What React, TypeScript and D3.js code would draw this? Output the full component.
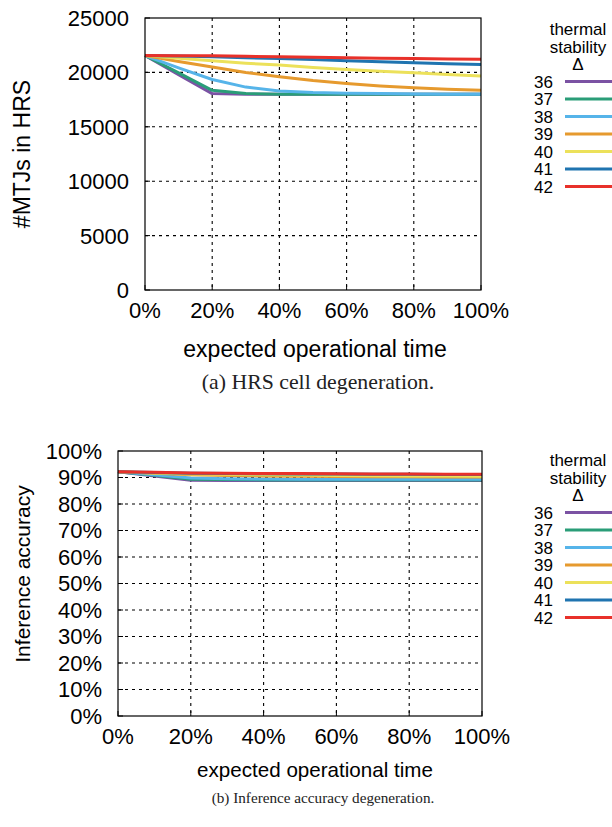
import React, { useRef, useEffect } from 'react';
import * as d3 from 'd3';

// x positions: expected operational time in %
const timePoints = [0, 10, 20, 30, 40, 50, 60, 70, 80, 90, 100];
const deltas = ['36', '37', '38', '39', '40', '41', '42'];
const colors = ['#7b52a3', '#2a9d78', '#56b4e9', '#e69a2e', '#ece15a', '#1f74b0', '#e8312a'];

// (a) number of MTJs in HRS
const hrs36 = [21550, 19800, 18050, 18000, 18000, 18000, 18000, 18000, 18000, 18000, 18000];
const hrs37 = [21550, 19950, 18350, 18050, 18000, 18000, 18000, 18000, 18000, 18000, 18000];
const hrs38 = [21550, 20420, 19350, 18650, 18300, 18150, 18080, 18050, 18020, 18000, 18000];
const hrs39 = [21550, 21000, 20500, 20000, 19600, 19250, 18980, 18750, 18580, 18450, 18350];
const hrs40 = [21550, 21300, 21070, 20850, 20670, 20460, 20270, 20110, 19970, 19810, 19660];
const hrs41 = [21550, 21500, 21430, 21350, 21280, 21180, 21070, 20970, 20880, 20800, 20730];
const hrs42 = [21550, 21540, 21520, 21480, 21440, 21390, 21350, 21310, 21270, 21240, 21220];

// (b) inference accuracy in %
const acc36 = [92.2, 90.6, 89.0, 88.9, 88.9, 88.9, 88.9, 88.9, 88.9, 88.9, 88.9];
const acc37 = [92.2, 90.8, 89.3, 89.2, 89.1, 89.1, 89.1, 89.1, 89.1, 89.1, 89.1];
const acc38 = [92.2, 91.0, 89.8, 89.5, 89.4, 89.3, 89.3, 89.3, 89.3, 89.3, 89.3];
const acc39 = [92.2, 91.6, 91.0, 90.8, 90.6, 90.5, 90.4, 90.3, 90.3, 90.2, 90.2];
const acc40 = [92.2, 91.7, 91.3, 91.2, 91.0, 90.9, 90.8, 90.7, 90.6, 90.6, 90.5];
const acc41 = [92.2, 91.9, 91.6, 91.5, 91.4, 91.3, 91.3, 91.2, 91.2, 91.1, 91.1];
const acc42 = [92.2, 92.0, 91.7, 91.6, 91.5, 91.5, 91.4, 91.3, 91.3, 91.2, 91.2];

const hrsSeries = [hrs36, hrs37, hrs38, hrs39, hrs40, hrs41, hrs42];
const accSeries = [acc36, acc37, acc38, acc39, acc40, acc41, acc42];

const xTicks = [0, 20, 40, 60, 80, 100];
const hrsTicks = [0, 5000, 10000, 15000, 20000, 25000];
const accTicks = [0, 10, 20, 30, 40, 50, 60, 70, 80, 90, 100];

const SANS = 'Liberation Sans, Arial, Helvetica, sans-serif';
const SERIF = 'Liberation Serif, Times New Roman, serif';

type PanelOpts = {
  left: number; right: number; top: number; bottom: number;
  yMax: number; yTicks: number[]; yFmt: (v: number) => string;
  yTitle: string; yTitleSize: number; yTitleY: number;
  xTitleSize: number; xTitleDy: number; tickSize: number;
  caption: string; captionSize: number; captionDy: number; captionX: number;
  series: number[][]; legendTop: number;
};

function drawPanel(svg: d3.Selection<SVGSVGElement, unknown, null, undefined>, o: PanelOpts) {
  const x = d3.scaleLinear().domain([0, 100]).range([o.left, o.right]);
  const y = d3.scaleLinear().domain([0, o.yMax]).range([o.bottom, o.top]);
  const g = svg.append('g');

  // dotted grid
  const grid = g.append('g').attr('stroke', '#000').attr('stroke-width', 1.1).attr('stroke-dasharray', '3,4');
  xTicks.filter(t => t > 0 && t < 100).forEach(t => {
    grid.append('line').attr('x1', x(t)).attr('x2', x(t)).attr('y1', o.top).attr('y2', o.bottom);
  });
  o.yTicks.filter(t => t > 0 && t < o.yMax).forEach(t => {
    grid.append('line').attr('x1', o.left).attr('x2', o.right).attr('y1', y(t)).attr('y2', y(t));
  });

  // tick marks (inside)
  const ticks = g.append('g').attr('stroke', '#000').attr('stroke-width', 1);
  xTicks.forEach(t => {
    ticks.append('line').attr('x1', x(t)).attr('x2', x(t)).attr('y1', o.bottom).attr('y2', o.bottom - 5);
  });
  o.yTicks.forEach(t => {
    ticks.append('line').attr('x1', o.left).attr('x2', o.left + 5).attr('y1', y(t)).attr('y2', y(t));
  });

  // lines
  const line = d3.line<number>().x((_, i) => x(timePoints[i])).y(d => y(d));
  o.series.forEach((s, i) => {
    g.append('path').datum(s).attr('fill', 'none').attr('stroke', colors[i])
      .attr('stroke-width', 3).attr('stroke-linejoin', 'round').attr('d', line);
  });

  // frame
  g.append('rect').attr('x', o.left).attr('y', o.top).attr('width', o.right - o.left)
    .attr('height', o.bottom - o.top).attr('fill', 'none').attr('stroke', '#000').attr('stroke-width', 1.2);

  // tick labels
  xTicks.forEach(t => {
    g.append('text').attr('x', x(t)).attr('y', o.bottom + 28).attr('text-anchor', 'middle')
      .attr('font-family', SANS).attr('font-size', o.tickSize).text(`${t}%`);
  });
  o.yTicks.forEach(t => {
    g.append('text').attr('x', o.left - 16).attr('y', y(t)).attr('dy', '0.36em').attr('text-anchor', 'end')
      .attr('font-family', SANS).attr('font-size', o.tickSize).text(o.yFmt(t));
  });

  // axis titles
  g.append('text').attr('x', 315).attr('y', o.bottom + o.xTitleDy).attr('text-anchor', 'middle')
    .attr('font-family', SANS).attr('font-size', o.xTitleSize).text('expected operational time');
  g.append('text').attr('transform', `translate(30,${o.yTitleY}) rotate(-90)`)
    .attr('text-anchor', 'middle').attr('font-family', SANS).attr('font-size', o.yTitleSize).text(o.yTitle);

  // caption
  g.append('text').attr('x', o.captionX).attr('y', o.bottom + o.captionDy).attr('text-anchor', 'middle')
    .attr('font-family', SERIF).attr('font-size', o.captionSize).attr('fill', '#222').text(o.caption);

  // legend
  const lg = g.append('g').attr('font-family', SANS).attr('font-size', 17);
  ['thermal', 'stability', 'Δ'].forEach((t, i) => {
    lg.append('text').attr('x', 578).attr('y', o.legendTop + i * 17.5).attr('dy', '0.36em')
      .attr('text-anchor', 'middle').text(t);
  });
  deltas.forEach((d, i) => {
    const ly = o.legendTop + (i + 3) * 17.5;
    lg.append('text').attr('x', 553).attr('y', ly).attr('dy', '0.36em').attr('text-anchor', 'end').text(d);
    lg.append('line').attr('x1', 565).attr('x2', 616).attr('y1', ly).attr('y2', ly)
      .attr('stroke', colors[i]).attr('stroke-width', 3);
  });
}

const App = () => {
  const svgRef = useRef<SVGSVGElement>(null);

  useEffect(() => {
    const svg = d3.select(svgRef.current as SVGSVGElement);
    svg.selectAll('*').remove();

    drawPanel(svg, {
      left: 145, right: 481, top: 18, bottom: 290,
      yMax: 25000, yTicks: hrsTicks, yFmt: v => `${v}`,
      yTitle: '#MTJs in HRS', yTitleSize: 23, yTitleY: 154,
      xTitleSize: 23, xTitleDy: 67, tickSize: 22,
      caption: '(a) HRS cell degeneration.', captionSize: 21.8, captionDy: 99, captionX: 318,
      series: hrsSeries, legendTop: 29,
    });

    drawPanel(svg, {
      left: 118, right: 482, top: 451, bottom: 716,
      yMax: 100, yTicks: accTicks, yFmt: v => `${v}%`,
      yTitle: 'Inference accuracy', yTitleSize: 21, yTitleY: 574,
      xTitleSize: 20.6, xTitleDy: 61, tickSize: 22,
      caption: '(b) Inference accuracy degeneration.', captionSize: 15.2, captionDy: 87, captionX: 323,
      series: accSeries, legendTop: 460,
    });
  }, []);

  return (
    <svg ref={svgRef} width={612} height={827}
      style={{ position: 'absolute', left: 0, top: 0, background: '#fff' }} />
  );
};

export default App;
